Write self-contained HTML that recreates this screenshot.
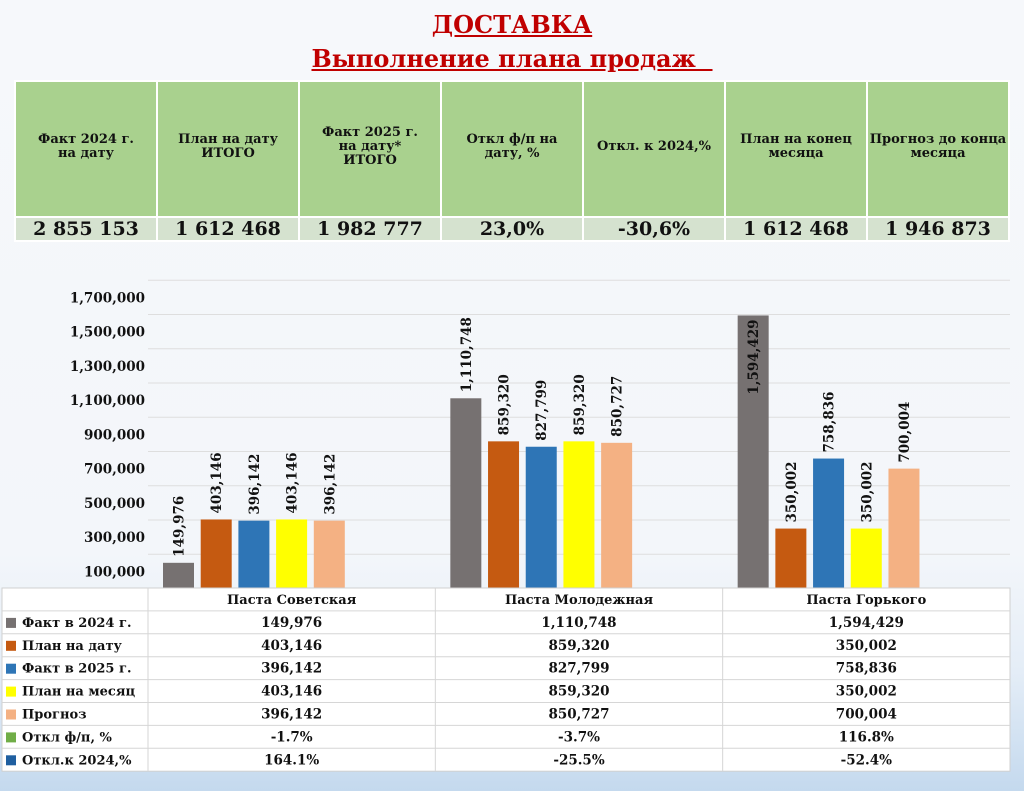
<!DOCTYPE html>
<html><head><meta charset="utf-8">
<style>
*{margin:0;padding:0;box-sizing:border-box}
body{width:1024px;height:791px;overflow:hidden;background:linear-gradient(#f6f8fb 0%,#f3f6fa 70%,#e4edf7 85%,#c4d9ee 100%);font-family:"DejaVu Serif","Liberation Serif",serif;font-weight:bold;position:relative}
.t{position:absolute;left:0;width:1024px;text-align:center;color:#c00000;text-decoration:underline;font-size:24px}
table.top{position:absolute;left:14px;top:80px;width:996px;border-collapse:collapse;table-layout:fixed}
table.top td{border:2px solid #fff;text-align:center;color:#111}
table.top tr.h td{background:#a9d18e;height:136px;font-size:13px;line-height:14px;padding-bottom:4px}
table.top tr.v td{background:#d5e2cf;height:24px;font-size:19px}
</style></head><body>
<div class="t" style="top:10px">ДОСТАВКА</div>
<div class="t" style="top:44px">Выполнение плана продаж&nbsp;&nbsp;</div>
<table class="top">
<tr class="h">
<td>Факт 2024 г.<br>на дату</td>
<td>План на дату<br>ИТОГО</td>
<td>Факт 2025 г.<br>на дату*<br>ИТОГО</td>
<td>Откл ф/п на<br>дату, %</td>
<td>Откл. к 2024,%</td>
<td>План на конец<br>месяца</td>
<td>Прогноз до конца<br>месяца</td>
</tr>
<tr class="v">
<td>2 855 153</td>
<td>1 612 468</td>
<td>1 982 777</td>
<td>23,0%</td>
<td>-30,6%</td>
<td>1 612 468</td>
<td>1 946 873</td>
</tr>
</table>
<svg id="chart" width="1024" height="791" style="position:absolute;left:0;top:0"></svg>
<script>
const categories=["Паста Советская","Паста Молодежная","Паста Горького"];
const seriesNames=["Факт в 2024 г.","План на дату","Факт в 2025 г.","План на месяц","Прогноз"];
const fact2024=[149976,1110748,1594429];
const planDate=[403146,859320,350002];
const fact2025=[396142,827799,758836];
const planMonth=[403146,859320,350002];
const forecast=[396142,850727,700004];
const devFP=["-1.7%","-3.7%","116.8%"];
const dev2024=["164.1%","-25.5%","-52.4%"];
const yTicks=[100000,300000,500000,700000,900000,1100000,1300000,1500000,1700000];
const gridVals=[200000,400000,600000,800000,1000000,1200000,1400000,1600000,1800000];
const colors=["#767171","#c55a11","#2e75b6","#ffff00","#f4b183"];
const series=[fact2024,planDate,fact2025,planMonth,forecast];
const fmt=v=>v.toLocaleString("en-US");
const NS="http://www.w3.org/2000/svg";
const FF="DejaVu Serif, Liberation Serif, serif";
const svg=document.getElementById("chart");
const x0=148,x1=1010,y0=588.5,pxPerUnit=34.25/200000;
const y=v=>y0-v*pxPerUnit;
const catW=(x1-x0)/categories.length;
function mk(tag,attrs,txt){const e=document.createElementNS(NS,tag);for(const k in attrs)e.setAttribute(k,attrs[k]);if(txt!==undefined)e.textContent=txt;svg.appendChild(e);return e;}
gridVals.forEach(v=>{
 const l=mk("line",{x1:x0,x2:x1,y1:y(v),y2:y(v),stroke:"#dedede","stroke-width":1});
 
 
});
yTicks.forEach(v=>{
 const t=mk("text",{x:145,y:y(v)+5,"text-anchor":"end","font-size":13.5,"font-weight":"bold","font-family":FF,fill:"#111"},fmt(v));
 
 
});
categories.forEach((c,ci)=>{
 series.forEach((s,si)=>{
  const bx=x0+ci*catW+15+si*37.7, bw=31;
  const r=mk("rect",{x:bx,y:y(s[ci]),width:bw,height:y0-y(s[ci]),fill:colors[si]});
  
  
  const cx=bx+bw/2+5, ty=y(s[ci])-6;
  const inside=ci===2&&si===0;
  const t=mk("text",{x:0,y:0,transform:`translate(${cx},${inside?y(s[ci])+4:ty}) rotate(-90)`,"text-anchor":inside?"end":"start","font-size":13.5,"font-weight":"bold","font-family":FF,fill:"#111"},fmt(s[ci]));
  
  
 });
});
const tTop=588,rowH=22.9;
const rows=seriesNames.map((n,i)=>[n,colors[i],series[i].map(fmt)]);
rows.push(["Откл ф/п, %","#70ad47",devFP]);
rows.push(["Откл.к 2024,%","#1f5fa0",dev2024]);
const tb=mk("rect",{x:2,y:tTop,width:x1-2,height:rowH*8,fill:"#fff",stroke:"#d0d0d0"});


for(let r=1;r<8;r++){const l=mk("line",{x1:2,x2:x1,y1:tTop+r*rowH,y2:tTop+r*rowH,stroke:"#d6d6d6"});}
for(let c=0;c<3;c++){const l=mk("line",{x1:x0+c*catW,x2:x0+c*catW,y1:tTop,y2:tTop+rowH*8,stroke:"#d6d6d6"});}
categories.forEach((c,ci)=>{
 const t=mk("text",{x:x0+ci*catW+catW/2,y:tTop+16,"text-anchor":"middle","font-size":13,"font-weight":"bold","font-family":FF,fill:"#111"},c);
 
 
});
rows.forEach((row,ri)=>{
 const ry=tTop+(ri+1)*rowH;
 const k=mk("rect",{x:6,y:ry+7,width:10,height:10,fill:row[1]});
 
 
 const t=mk("text",{x:22,y:ry+16,"font-size":13,"font-weight":"bold","font-family":FF,fill:"#111"},row[0]);
 
 
 row[2].forEach((v,ci)=>{
  const c=mk("text",{x:x0+ci*catW+catW/2,y:ry+16,"text-anchor":"middle","font-size":13.5,"font-weight":"bold","font-family":FF,fill:"#111"},v);
  
  
 });
});
</script>
</body></html>
